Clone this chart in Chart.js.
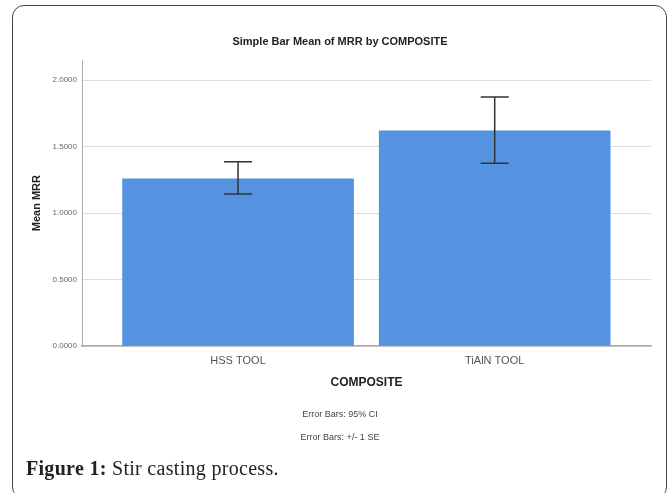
<!DOCTYPE html>
<html>
<head>
<meta charset="utf-8">
<script src="https://cdn.jsdelivr.net/npm/chart.js@4"></script>
<style>
  body { margin: 0; background: #fff; }
  #wrap { position: relative; width: 670px; height: 493px; overflow: hidden; }
  #chart { position: absolute; left: 0; top: 0; }
  #frame {
    position: absolute; left: 12px; top: 5px; width: 653px; height: 492px;
    border: 1.5px solid #444; border-radius: 12px; pointer-events: none;
  }
  #caption {
    position: absolute; left: 26px; top: 457px; line-height: 22px; letter-spacing: 0.3px;
    font-family: "Liberation Serif", "DejaVu Serif", serif; font-size: 20px; color: #222;
  }
</style>
</head>
<body>
<div id="wrap">
  <canvas id="chart" width="670" height="450"></canvas>
  <div id="frame"></div>
  <div id="caption"><b>Figure 1:</b> Stir casting process.</div>
</div>
<script>
// data
const categories = ["HSS TOOL", "TiAlN TOOL"];
const meanMRR = [1.258, 1.619];
const ciLow = [1.143, 1.374];
const ciHigh = [1.386, 1.874];
const yTicks = [0, 0.5, 1.0, 1.5, 2.0];
const footNotes = ["Error Bars: 95% CI", "Error Bars: +/- 1 SE"];

Chart.defaults.font.family = '"Liberation Sans", Arial, sans-serif';

// Start of errorBars plugin
const errorBars = {
  id: "errorBars",
  afterDatasetsDraw(chart) {
    const ctx = chart.ctx;
    const xs = chart.scales.x;
    const ys = chart.scales.y;
    ctx.save();
    ctx.strokeStyle = "#333";
    ctx.lineWidth = 1.5;
    categories.forEach((c, i) => {
      const x = xs.getPixelForValue(i + 1);
      const top = ys.getPixelForValue(ciHigh[i]);
      const bot = ys.getPixelForValue(ciLow[i]);
      ctx.beginPath();
      ctx.moveTo(x, top); ctx.lineTo(x, bot);
      ctx.moveTo(x - 14, top); ctx.lineTo(x + 14, top);
      ctx.moveTo(x - 14, bot); ctx.lineTo(x + 14, bot);
      ctx.stroke();
    });
    ctx.restore();
  }
};
// End of errorBars plugin

const ctx = document.getElementById("chart").getContext("2d");
new Chart(ctx, {
  type: "bar",
  data: {
    datasets: [{
      label: "Mean MRR",
      data: meanMRR.map((v, i) => ({ x: i + 1, y: v })),
      backgroundColor: "#5592e0",
      borderWidth: 0,
      barThickness: 231,
    }],
  },
  options: {
    responsive: false,
    animation: false,
    layout: { padding: { left: 29, right: 19, top: 0, bottom: 0 } },
    plugins: {
      legend: { display: false },
      tooltip: { enabled: false },
      title: {
        display: true,
        text: "Simple Bar Mean of MRR by COMPOSITE",
        color: "#222",
        font: { size: 11, weight: "bold" },
        padding: { top: 35, bottom: 12 },
      },
      subtitle: {
        display: true,
        position: "bottom",
        text: footNotes,
        color: "#444",
        font: { size: 9, lineHeight: "23px" },
        padding: { top: 7.5, bottom: 0.5 },
      },
    },
    scales: {
      x: {
        type: "linear",
        offset: false,
        min: 0.392,
        max: 2.609,
        afterBuildTicks: s => { s.ticks = categories.map((c, i) => ({ value: i + 1 })); },
        afterFit: s => { s.height = 50; },
        ticks: {
          callback: v => categories[v - 1],
          color: "#555",
          font: { size: 11 },
          padding: 0,
        },
        grid: { display: false },
        border: { display: true, color: "#aaa", width: 1.5 },
        title: {
          display: true,
          text: "COMPOSITE",
          color: "#222",
          font: { size: 12, weight: "bold" },
          padding: { top: 0, bottom: 6 },
        },
      },
      y: {
        min: 0,
        max: 2.15,
        afterBuildTicks: s => { s.ticks = yTicks.map(v => ({ value: v })); },
        afterFit: s => { s.width = 53; },
        ticks: {
          callback: v => v.toFixed(4),
          color: "#666",
          font: { size: 8 },
          padding: 5,
        },
        grid: { color: "#dcdcdc", drawTicks: false },
        border: { display: true, color: "#b0b0b0", width: 1 },
        title: {
          display: true,
          text: "Mean MRR",
          color: "#222",
          font: { size: 11, weight: "bold" },
          padding: { top: 1, bottom: 0 },
        },
      },
    },
  },
  plugins: [errorBars],
});
</script>
</body>
</html>
